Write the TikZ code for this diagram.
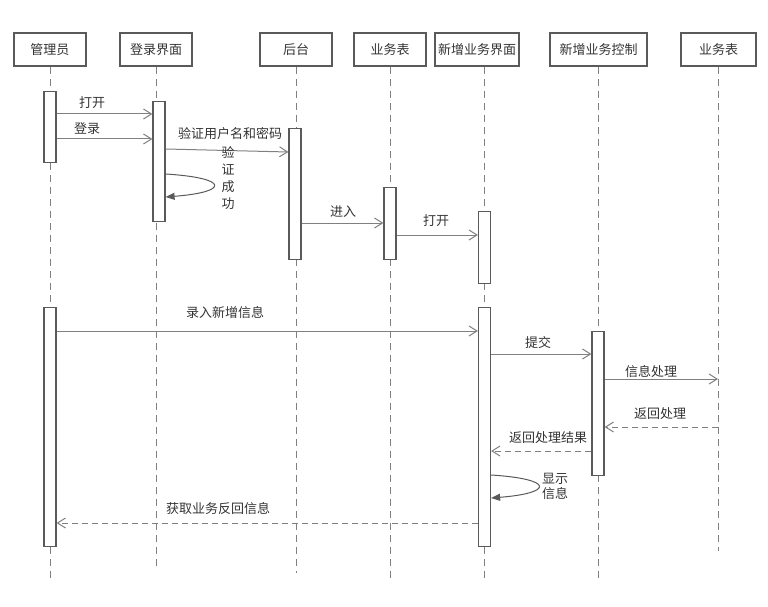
\documentclass[tikz,border=0pt]{standalone}
\usepackage{fontspec}
\setmainfont{Noto Sans CJK SC}
\definecolor{seqLine}{HTML}{808080}
\definecolor{seqBox}{HTML}{5A5A5A}
\definecolor{seqText}{HTML}{333333}
\usetikzlibrary{arrows.meta, positioning, calc}

\begin{document}
\begin{tikzpicture}[
  x=1pt, y=-1pt,
  every node/.style={font=\fontsize{13}{15}\selectfont, text=seqText},
  head/.style={draw=seqBox, line width=1.1pt, minimum height=33pt,
    minimum width=72pt, inner sep=2pt},
  act/.style={draw=seqBox, line width=1.2pt, fill=white, minimum width=12pt,
    anchor=north, inner sep=0pt},
  life/.style={seqLine, line width=1pt, dash pattern=on 7pt off 5pt},
  msg/.style={seqLine, line width=1pt, -{Straight Barb[length=8pt,width=10pt]}},
  retmsg/.style={msg, dash pattern=on 6pt off 4pt},
  selfmsg/.style={seqBox, line width=1pt, -{Triangle[length=9pt,width=7pt]}}]
  \useasboundingbox (0,0) rectangle (768,607);
  % Participants
  \node[head] (admin) at (50,49.5) {管理员};
  \node[head] (login) at (156,49.5) {登录界面};
  \node[head] (bk) at (296,49.5) {后台};
  \node[head] (tbl) at (390,49.5) {业务表};
  \node[head, minimum width=84pt] (newui) at (477,49.5) {新增业务界面};
  \node[head, minimum width=97pt] (ctrl) at (598.5,49.5) {新增业务控制};
  \node[head, minimum width=75pt] (tbl2) at (718.5,49.5) {业务表};
  % Lifelines
  \foreach \n/\x/\e in {admin/50/581, login/156/570, bk/296/573, tbl/390/581,
      newui/484/581, ctrl/598/582, tbl2/718/551} {
    \draw[life] (\n.south -| \x,0) -- (\x,\e);
  }
  % Activations
  \node[act, minimum height=71pt] (adm1) at (50,91) {};
  \node[act, minimum height=120pt] (login1) at (159,101) {};
  \node[act, minimum height=131pt] (bk1) at (295,128) {};
  \node[act, minimum height=72pt] (tbl1) at (390,187) {};
  \node[act, minimum height=72pt] (newui1) at (484.5,211) {};
  \node[act, minimum height=239pt] (adm2) at (50,307) {};
  \node[act, minimum height=239pt] (newui2) at (484.5,307) {};
  \node[act, minimum height=144pt] (ctrl1) at (598,331) {};
  % Login
  \draw[msg] (adm1.east |- 0,114) -- (login1.west |- 0,114);
  \node (m1) at (92,103) {打开};
  \draw[msg] (adm1.east |- 0,139) -- (login1.west |- 0,139);
  \node (m2) at (87,129) {登录};
  \draw[msg] (login1.east |- 0,149) -- (bk1.west |- 0,152);
  \node (m3) at (230,134) {验证用户名和密码};
  \draw[selfmsg] (login1.east |- 0,174) .. controls +(64,4) and +(64,-5) .. (login1.east |- 0,197);
  \node[align=center, font=\fontsize{13}{17}\selectfont] (m4) at (228,178) {验\\证\\成\\功};
  \draw[msg] (bk1.east |- 0,223) -- (tbl1.west |- 0,223);
  \node (m5) at (343,212) {进入};
  \draw[msg] (tbl1.east |- 0,235) -- (newui1.west |- 0,235);
  \node (m6) at (436,221) {打开};
  % Add record
  \draw[msg] (adm2.east |- 0,331) -- (newui2.west |- 0,331);
  \node (m7) at (225,313) {录入新增信息};
  \draw[msg] (newui2.east |- 0,354) -- (ctrl1.west |- 0,354);
  \node (m8) at (538,343) {提交};
  \draw[msg] (ctrl1.east |- 0,379) -- (718,379);
  \node (m9) at (651,372) {信息处理};
  \draw[retmsg] (718,427) -- (ctrl1.east |- 0,427);
  \node (m10) at (660,414) {返回处理};
  \draw[retmsg] (ctrl1.west |- 0,451) -- (newui2.east |- 0,451);
  \node (m11) at (548,438) {返回处理结果};
  \draw[selfmsg] (newui2.east |- 0,475) .. controls +(63,4) and +(63,-5) .. (newui2.east |- 0,498);
  \node[align=center, font=\fontsize{13}{15}\selectfont] (m12) at (555,486) {显示\\信息};
  \draw[retmsg] (newui2.west |- 0,523) -- (adm2.east |- 0,523);
  \node (m13) at (218,509) {获取业务反回信息};
\end{tikzpicture}
\end{document}
